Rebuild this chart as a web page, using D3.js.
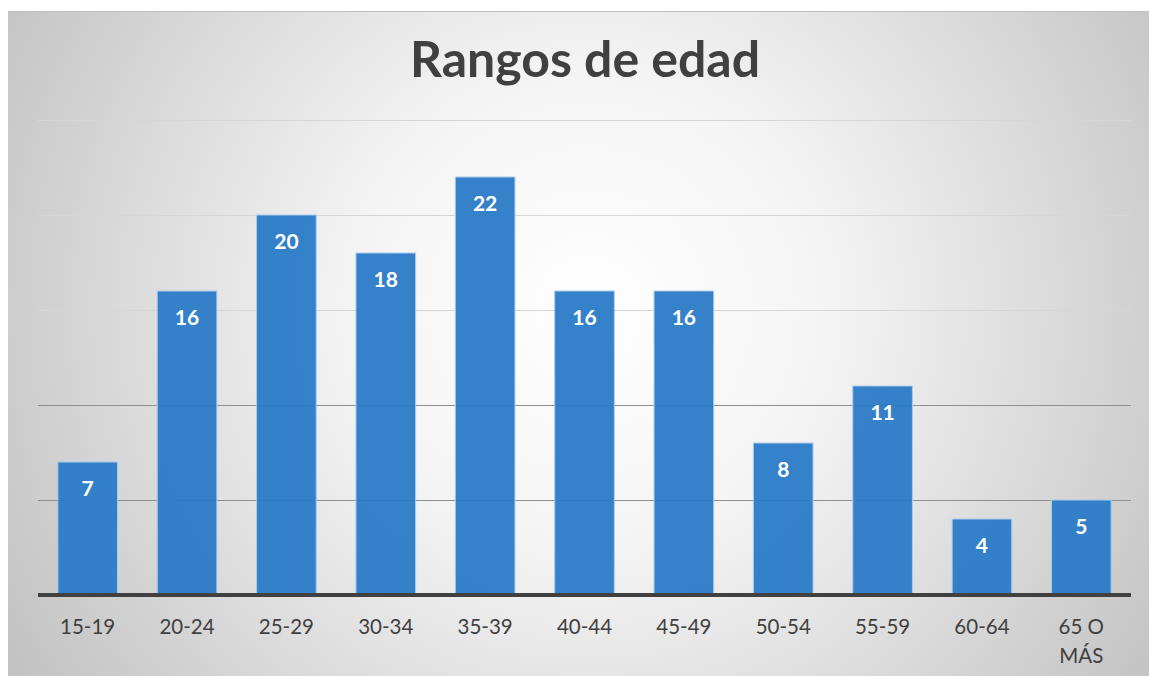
<!DOCTYPE html>
<meta charset="utf-8">
<style>
body { margin:0; background:#fff; }
svg { display:block; }
.grid line { shape-rendering: crispEdges; }
.xlab { font-family: Lato, "Open Sans", sans-serif; font-size:20.5px; fill:#404040; }
.val { font-family: Lato, sans-serif; font-weight:bold; font-size:21px; fill:#fff; }
.title { font-family: Lato, sans-serif; font-weight:bold; font-size:50px; fill:#404040; }
</style>
<body>
<svg width="1149" height="676"></svg>
<script src="https://d3js.org/d3.v7.min.js"></script>
<script>
var categories = ["15-19","20-24","25-29","30-34","35-39","40-44","45-49","50-54","55-59","60-64","65 O MÁS"];
var values = [7,16,20,18,22,16,16,8,11,4,5];
var yTicks = [5,10,15,20,25];

var svg = d3.select("svg");

// background with radial shading
var defs = svg.append("defs");
var grad = defs.append("radialGradient")
    .attr("id","bg").attr("gradientUnits","userSpaceOnUse")
    .attr("cx",590).attr("cy",310).attr("r",680);
grad.append("stop").attr("offset","0%").attr("stop-color","#ffffff");
grad.append("stop").attr("offset","35%").attr("stop-color","#f4f4f4");
grad.append("stop").attr("offset","100%").attr("stop-color","#c2c2c2");

svg.append("rect").attr("x",8).attr("y",11).attr("width",1141).attr("height",665)
    .attr("fill","url(#bg)");
svg.append("line").attr("x1",8).attr("x2",1149).attr("y1",11.5).attr("y2",11.5)
    .attr("stroke","#bdbdbd").attr("stroke-width",1);

var plotL = 38, plotR = 1131, plotT = 120, plotB = 595;

var x = d3.scaleBand().domain(categories).range([plotL, plotR]).paddingInner(0.4).paddingOuter(0.2);
var y = d3.scaleLinear().domain([0,25]).range([plotB, plotT]);

// gridlines
svg.append("g").attr("class","grid")
  .selectAll("line").data(yTicks).enter().append("line")
    .attr("x1",plotL).attr("x2",plotR)
    .attr("y1",function(d){ return Math.round(y(d))+0.5; })
    .attr("y2",function(d){ return Math.round(y(d))+0.5; })
    .attr("stroke",function(d){ return d <= 10 ? "#8f8f8f" : "#d6d6d6"; })
    .attr("stroke-width",1);

// bars
svg.selectAll(".bar").data(values).enter().append("rect")
    .attr("class","bar")
    .attr("x",function(d,i){ return x(categories[i]); })
    .attr("width",x.bandwidth())
    .attr("y",function(d){ return y(d); })
    .attr("height",function(d){ return plotB - y(d); })
    .attr("fill","#2a7bc8").attr("fill-opacity",0.95)
    .attr("stroke","#a9cbeb").attr("stroke-width",1);

// value labels
svg.selectAll(".val").data(values).enter().append("text")
    .attr("class","val")
    .attr("x",function(d,i){ return x(categories[i]) + x.bandwidth()/2; })
    .attr("y",function(d){ return y(d) + 34; })
    .attr("text-anchor","middle")
    .text(function(d){ return d; });

// baseline
svg.append("line").attr("x1",plotL).attr("x2",plotR).attr("y1",plotB).attr("y2",plotB)
    .attr("stroke","#404040").attr("stroke-width",4);

// x axis labels
var xl = svg.selectAll(".xlab").data(categories).enter().append("text")
    .attr("class","xlab")
    .attr("text-anchor","middle")
    .attr("x",function(d){ return x(d) + x.bandwidth()/2; })
    .attr("y",634);
xl.each(function(d){
  var t = d3.select(this);
  if (d === "65 O MÁS") {
    t.append("tspan").attr("x",x(d)+x.bandwidth()/2).text("65 O");
    t.append("tspan").attr("x",x(d)+x.bandwidth()/2).attr("dy",29).text("MÁS");
  } else {
    t.text(d);
  }
});

// title
svg.append("text").attr("class","title")
    .attr("x",585).attr("y",77).attr("text-anchor","middle")
    .text("Rangos de edad");
</script>
</body>
